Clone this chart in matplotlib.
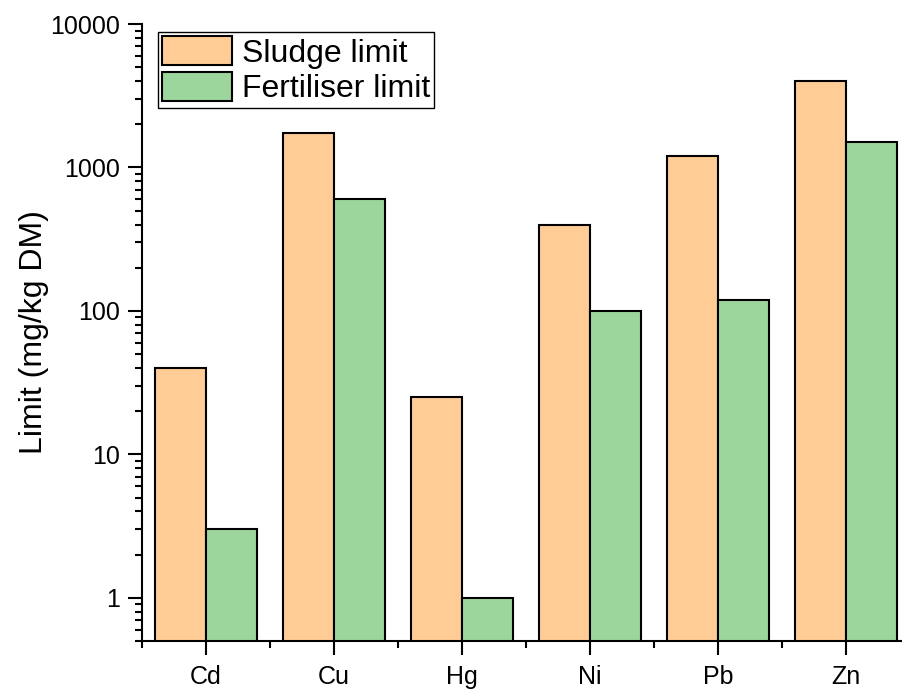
import numpy as np
import matplotlib.pyplot as plt
from matplotlib.ticker import LogLocator, FixedLocator, NullFormatter

plt.rcParams['font.family'] = ['Liberation Sans', 'DejaVu Sans']

# heavy metal limits, mg/kg dry matter
metals = ['Cd', 'Cu', 'Hg', 'Ni', 'Pb', 'Zn']
sludge = [40, 1750, 25, 400, 1200, 4000]
fertiliser = [3, 600, 1, 100, 120, 1500]

x = np.arange(len(metals))
w = 0.4

fig = plt.figure(figsize=(9.02, 6.89), dpi=100)
ax = fig.add_axes([142/902, 48/689, 768/902, 617/689])

ax.bar(x - w/2, sludge, w, color='#FFCC95', edgecolor='black', linewidth=1.5,
       label='Sludge limit')
ax.bar(x + w/2, fertiliser, w, color='#9DD69C', edgecolor='black', linewidth=1.5,
       label='Fertiliser limit')

ax.set_yscale('log')
ax.set_ylim(0.5, 10000)
ax.set_xlim(-0.5, 5.5)
ax.set_yticks([1, 10, 100, 1000, 10000])
ax.set_yticklabels(['1', '10', '100', '1000', '10000'])
ax.yaxis.set_minor_locator(LogLocator(base=10, subs=np.arange(2, 10)))
ax.yaxis.set_minor_formatter(NullFormatter())
ax.set_xticks(x)
ax.set_xticklabels(metals)
ax.xaxis.set_minor_locator(FixedLocator(np.arange(-0.5, 5.6, 1)))

ax.tick_params(axis='both', which='major', direction='out', length=10, width=1.5,
               labelsize=18, pad=6)
ax.tick_params(axis='both', which='minor', direction='out', length=5, width=1.5)
ax.tick_params(axis='x', which='major', pad=7)

for s in ['top', 'right']:
    ax.spines[s].set_visible(False)
for s in ['left', 'bottom']:
    ax.spines[s].set_linewidth(1.5)

ax.set_ylabel('Limit (mg/kg DM)', fontsize=23, labelpad=1)

leg = ax.legend(loc='upper left', bbox_to_anchor=(16/768, 1 - 8/617), fontsize=23,
                frameon=True, fancybox=False, edgecolor='black', framealpha=1,
                handlelength=2.2, handleheight=1.05, borderpad=0.12,
                labelspacing=0.1, handletextpad=0.3, borderaxespad=0)
leg.get_frame().set_linewidth(1)

fig.savefig('out.png', dpi=100)
